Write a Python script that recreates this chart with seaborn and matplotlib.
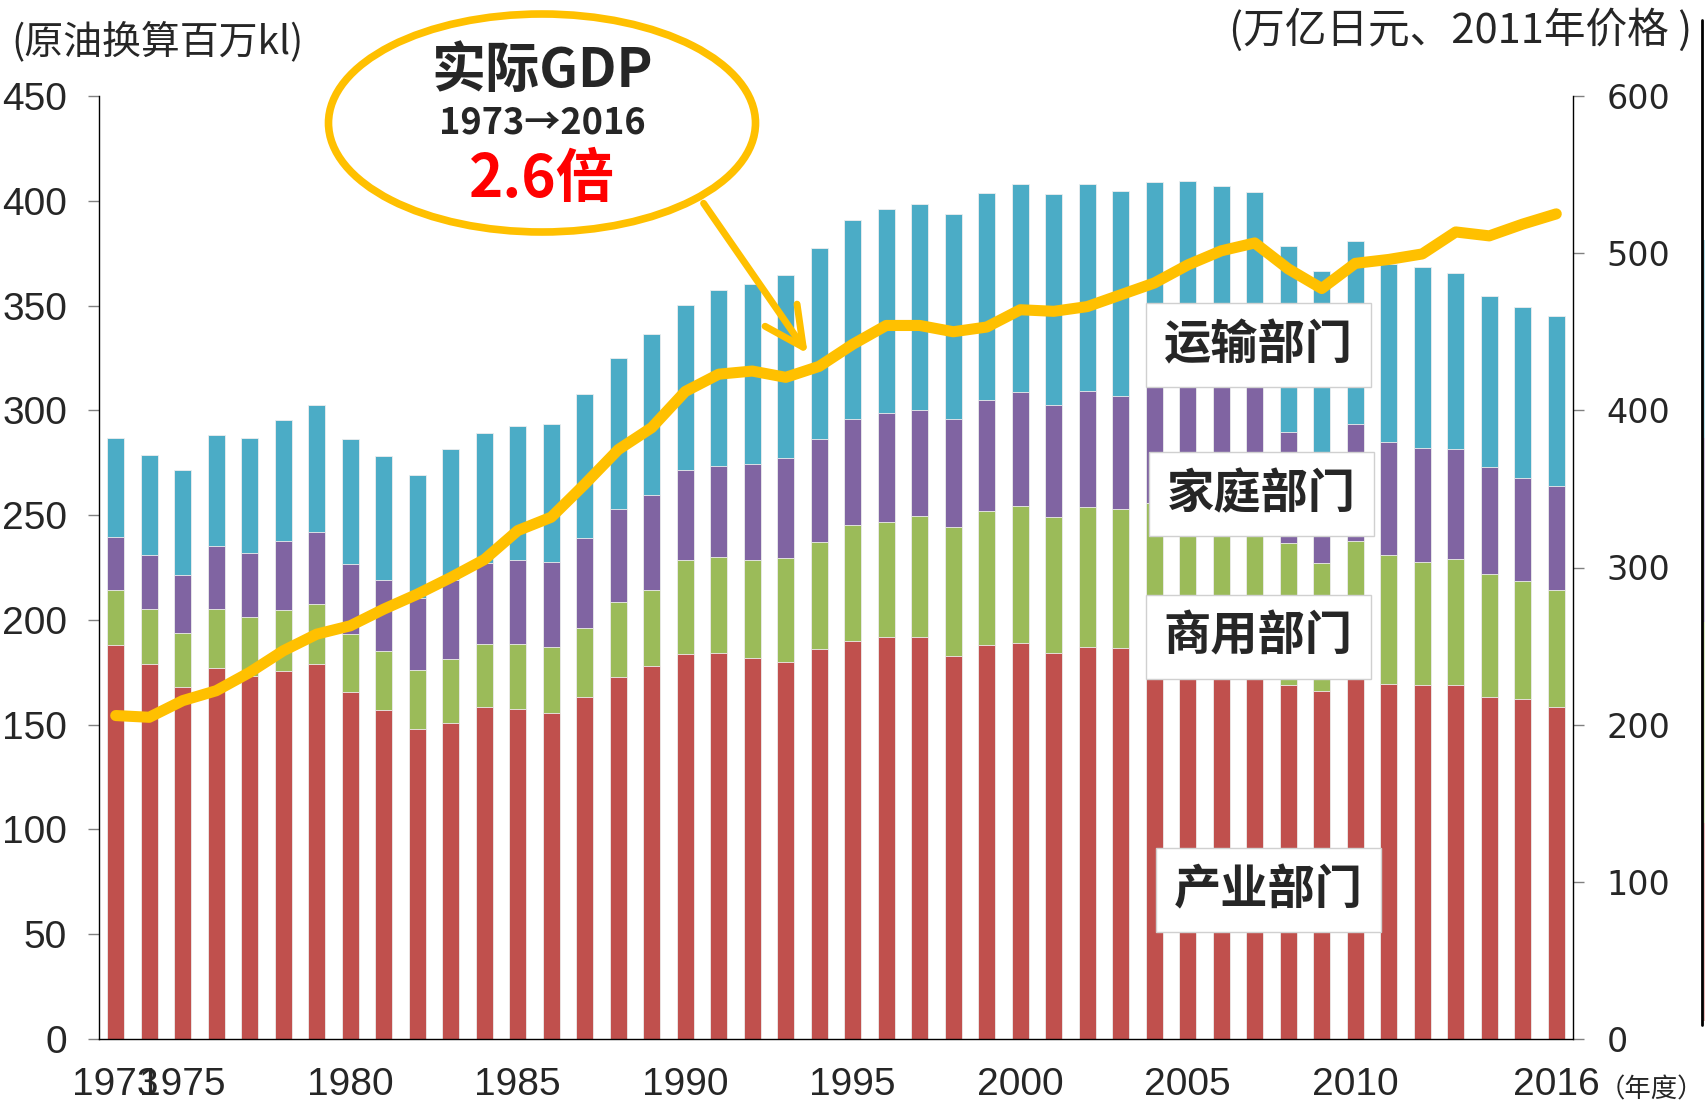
import numpy as np
import pandas as pd
import matplotlib
matplotlib.use("Agg")
import matplotlib.pyplot as plt
import seaborn as sns
from matplotlib.patches import Ellipse, Rectangle
from matplotlib.lines import Line2D

# ===============================
# Data
# ===============================

years = list(range(1973, 2017))

# 原油换算百万kl
industry = [188.0, 178.9, 167.8, 177.2, 173.3, 175.7, 178.9, 165.4, 157.1, 147.9,
            150.9, 158.2, 157.6, 155.7, 163.3, 172.9, 177.8, 183.7, 184.0, 182.0,
            180.0, 186.0, 190.0, 192.0, 192.0, 183.0, 188.0, 189.0, 184.0, 187.0,
            186.7, 189.0, 186.0, 184.0, 182.0, 168.9, 166.2, 174.1, 169.5, 168.9,
            168.9, 163.3, 162.2, 158.5]
commercial = [26.5, 26.1, 26.1, 28.0, 28.2, 29.0, 28.8, 28.1, 27.9, 28.0,
              30.4, 30.4, 31.0, 31.5, 32.6, 35.6, 36.4, 44.8, 45.8, 46.5,
              49.7, 51.1, 55.1, 54.5, 57.4, 61.4, 64.2, 65.3, 65.2, 66.7,
              66.2, 67.0, 68.0, 68.0, 68.0, 67.7, 60.8, 63.4, 61.3, 58.9,
              60.1, 58.8, 56.2, 56.0]
household = [25.2, 26.2, 27.6, 30.2, 30.5, 32.9, 34.3, 33.1, 34.1, 34.4,
             37.8, 38.5, 40.1, 40.5, 43.3, 44.5, 45.2, 42.8, 43.7, 45.8,
             47.6, 49.3, 50.9, 52.2, 50.8, 51.6, 52.8, 54.5, 53.4, 55.5,
             54.0, 58.0, 61.0, 63.0, 66.0, 53.0, 51.0, 55.9, 54.0, 54.3,
             52.4, 50.8, 49.4, 49.4]
transport = [47.2, 47.6, 50.0, 52.6, 54.9, 58.0, 60.5, 59.5, 58.9, 58.8,
             62.5, 62.3, 63.9, 66.0, 68.5, 72.1, 77.1, 79.2, 83.8, 86.2,
             87.5, 91.1, 94.6, 97.3, 98.3, 97.6, 98.9, 99.1, 100.7, 99.0,
             97.7, 95.1, 94.4, 92.0, 88.3, 88.6, 88.5, 87.4, 84.9, 86.2,
             83.9, 81.8, 81.4, 80.9]

# 实际GDP 万亿日元(2011年价格)
gdp = [205.8, 204.7, 215.3, 221.6, 233.3, 247.0, 257.6, 262.9, 273.5, 283.0,
       293.6, 305.0, 323.5, 332.0, 353.0, 375.0, 389.0, 412.0, 423.0, 425.0,
       421.0, 428.0, 442.0, 454.0, 454.0, 450.0, 453.0, 464.0, 463.0, 466.0,
       473.5, 481.0, 492.5, 501.5, 506.5, 490.0, 477.5, 493.5, 496.0, 499.5,
       513.5, 511.0, 518.5, 525.0]

tick_years = [1973, 1975, 1980, 1985, 1990, 1995, 2000, 2005, 2010, 2016]
sector_labels = ["产业部门", "商用部门", "家庭部门", "运输部门"]
sector_colors = ["#C0504D", "#9BBB59", "#8064A2", "#4BACC6"]
line_color = "#FFC000"

df = pd.DataFrame({"year": years, "industry": industry, "commercial": commercial,
                   "household": household, "transport": transport, "gdp": gdp})

# cumulative tops for stacking
df["s1"] = df["industry"]
df["s2"] = df["s1"] + df["commercial"]
df["s3"] = df["s2"] + df["household"]
df["s4"] = df["s3"] + df["transport"]

# ===============================
# Style
# ===============================

sns.set_theme(style="white")
plt.rcParams["font.family"] = ["Noto Sans CJK SC", "DejaVu Sans"]

narrow = ["Liberation Sans Narrow", "Liberation Sans", "DejaVu Sans"]
cjk = ["Noto Sans CJK SC", "DejaVu Sans"]

W, H = 1706, 1108
fig = plt.figure(figsize=(W / 100, H / 100), dpi=100)
ax = fig.add_axes([99 / W, 1 - 1039 / H, (1573 - 99) / W, (1039 - 96) / H])

# stacked bars: draw tallest first, shorter ones on top
for col, color in zip(["s4", "s3", "s2", "s1"], sector_colors[::-1]):
    sns.barplot(data=df, x="year", y=col, color=color, saturation=1, width=0.5,
                edgecolor="#eeeeee", linewidth=0.6, errorbar=None, ax=ax)

ax.set_xlim(-0.5, len(years) - 0.5)
ax.set_ylim(0, 450)
ax.set_yticks(range(0, 451, 50))
ax.set_xlabel("")
ax.set_ylabel("")

idx = [years.index(y) for y in tick_years]
ax.set_xticks(idx)
ax.set_xticklabels([str(y) for y in tick_years])
ax.set_xticks(np.arange(-0.5, len(years), 1), minor=True)
ax.tick_params(axis="x", which="major", length=0, pad=20, labelsize=28)
ax.tick_params(axis="x", which="minor", length=8, width=1, color="#808080",
               direction="out")
ax.tick_params(axis="y", length=8, width=1, color="#808080", direction="out",
               pad=15, labelsize=28, left=True)
for lab in ax.get_xticklabels() + ax.get_yticklabels():
    lab.set_family(narrow)

for s in ["top", "right"]:
    ax.spines[s].set_visible(False)
for s in ["left", "bottom"]:
    ax.spines[s].set_color("black")
    ax.spines[s].set_linewidth(1.0)

# GDP line on right axis
ax2 = ax.twinx()
sns.lineplot(x=df.index, y=df["gdp"], color=line_color, lw=8, ax=ax2,
             solid_capstyle="round", solid_joinstyle="round")
ax2.set_ylim(0, 600)
ax2.set_yticks(range(0, 601, 100))
ax2.set_ylabel("")
ax2.tick_params(axis="y", length=8, width=1, color="#808080", direction="out",
                pad=16, labelsize=24, right=True)
for lab in ax2.get_yticklabels():
    lab.set_family(["DejaVu Sans"])
for s in ["top", "left", "bottom"]:
    ax2.spines[s].set_visible(False)
ax2.spines["right"].set_color("black")
ax2.spines["right"].set_linewidth(1.0)
ax.set_xlim(-0.5, len(years) - 0.5)

# ===============================
# Sector labels
# ===============================

label_pos = [(34.4, 71), (34.1, 192), (34.2, 260), (34.1, 331)]
for text, (xp, yp) in zip(sector_labels, label_pos):
    ax.text(xp, yp, text, ha="center", va="center", fontsize=34,
            fontweight="bold", family=cjk, zorder=5,
            bbox=dict(boxstyle="square,pad=0.38", fc="white", ec="#d0d0d0", lw=1))

# ===============================
# Axis titles
# ===============================

fig.text(11 / W, 1 - 42 / H, "(原油换算百万kl)", ha="left", va="center",
         fontsize=28, family=cjk)
fig.text(1692 / W, 1 - 30 / H, "(万亿日元、2011年价格 )", ha="right", va="center",
         fontsize=30, family=cjk)
fig.text(1599 / W, 1 - 1090 / H, "（年度）", ha="left", va="center",
         fontsize=19, family=cjk)

# ===============================
# GDP bubble
# ===============================

bubble = Ellipse((542 / W, 1 - 123 / H), 427 / W, 218 / H, transform=fig.transFigure,
                 fc="white", ec=line_color, lw=5.5, zorder=10)
fig.add_artist(bubble)
fig.text(542 / W, 1 - 72 / H, "实际GDP", ha="center", va="center", fontsize=39,
         fontweight="bold", family=cjk, zorder=11)
fig.text(542 / W, 1 - 123 / H, "1973→2016", ha="center", va="center", fontsize=26,
         fontweight="bold", family=cjk, zorder=11)
fig.text(542 / W, 1 - 180 / H, "2.6倍", ha="center", va="center", fontsize=42,
         fontweight="bold", color="#FF0000", family=cjk, zorder=11)

ax.annotate("", xy=(20.7, 326), xycoords="data",
            xytext=(702 / W, 1 - 201 / H), textcoords="figure fraction",
            arrowprops=dict(arrowstyle="->,head_length=0.7,head_width=0.35",
                            color=line_color, lw=5, mutation_scale=40),
            zorder=9, annotation_clip=False)

# ===============================
# Cut-off strip at the right edge
# ===============================

fig.add_artist(Line2D([1702 / W, 1702 / W], [1 - 20 / H, 1 - 1025 / H],
                      transform=fig.transFigure, color="black", lw=2))
strip = [(240, 438, "#b7dde8"), (438, 622, "#ccc1da"),
         (622, 823, "#d7e4bd"), (823, 1021, "#e6b9b8")]
for y0, y1, c in strip:
    fig.add_artist(Rectangle((1703 / W, 1 - y1 / H), 3 / W, (y1 - y0) / H,
                             transform=fig.transFigure, fc=c, ec="none"))

fig.savefig("out.png", dpi=100)
